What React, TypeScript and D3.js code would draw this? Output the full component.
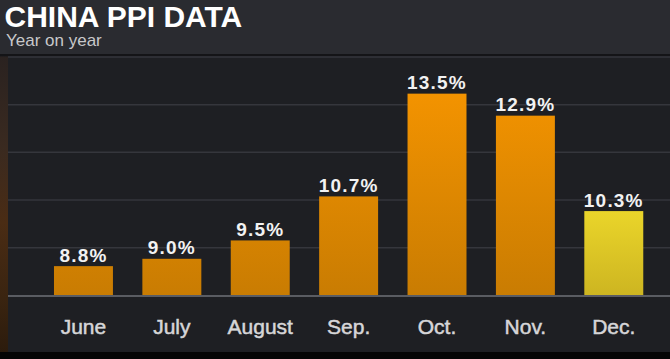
import React from "react";
import * as d3 from "d3";

const months = ["June", "July", "August", "Sep.", "Oct.", "Nov.", "Dec."];
const values = [8.8, 9.0, 9.5, 10.7, 13.5, 12.9, 10.3];
const valueLabels = ["8.8%", "9.0%", "9.5%", "10.7%", "13.5%", "12.9%", "10.3%"];
const highlight = [false, false, false, false, false, false, true];
const gridValues = [9.3, 10.6, 11.9, 13.2, 14.5];
const title = "CHINA PPI DATA";
const subtitle = "Year on year";

const W = 670;
const H = 359;

export default function App() {
  const x = d3
    .scaleBand<string>()
    .domain(months)
    .range([39.25, 658])
    .paddingInner(0.333)
    .paddingOuter(0.1667);
  const y = d3.scaleLinear().domain([8, 14]).range([295.5, 75.3]);

  return (
    <svg
      width={W}
      height={H}
      style={{ position: "absolute", left: 0, top: 0, display: "block" }}
    >
      <defs>
        <linearGradient id="og" gradientUnits="userSpaceOnUse" x1="0" y1={y(13.5)} x2="0" y2={y(8)}>
          <stop offset="0" stopColor="#f39300" />
          <stop offset="1" stopColor="#c97c02" />
        </linearGradient>
        <linearGradient id="yg" gradientUnits="userSpaceOnUse" x1="0" y1={y(10.3)} x2="0" y2={y(8)}>
          <stop offset="0" stopColor="#ead52a" />
          <stop offset="1" stopColor="#cdb521" />
        </linearGradient>
        <linearGradient id="lg" x1="0" y1="0" x2="0" y2="1">
          <stop offset="0" stopColor="#2a2220" />
          <stop offset="0.3" stopColor="#3a2a20" />
          <stop offset="0.55" stopColor="#4a2c14" />
          <stop offset="0.8" stopColor="#3a2410" />
          <stop offset="1" stopColor="#2a1a0c" />
        </linearGradient>
      </defs>
      <rect x={0} y={0} width={W} height={H} fill="#1e1f23" />
      <rect x={0} y={0} width={W} height={54} fill="#2a2b30" />
      <rect x={0} y={54} width={W} height={2.5} fill="#141417" />
      <rect x={0} y={56.5} width={8} height={H - 56.5} fill="url(#lg)" />

      {gridValues.map((g, i) => (
        <line
          key={i}
          x1={8}
          x2={W}
          y1={y(g)}
          y2={y(g)}
          stroke="#35363c"
          strokeWidth={1.5}
        />
      ))}

      {months.map((m, i) => (
        <rect
          key={m}
          x={x(m)}
          y={y(values[i])}
          width={x.bandwidth()}
          height={y(8) - y(values[i])}
          fill={highlight[i] ? "url(#yg)" : "url(#og)"}
        />
      ))}

      <line x1={8} x2={W} y1={y(8) + 0.5} y2={y(8) + 0.5} stroke="#5a5c62" strokeWidth={2} />

      {months.map((m, i) => (
        <text
          key={"v" + m}
          x={(x(m) as number) + x.bandwidth() / 2}
          y={y(values[i]) - 4.5}
          textAnchor="middle"
          fill="#f2f2f2"
          fontFamily="'Liberation Sans', Arial, sans-serif"
          fontWeight="bold"
          fontSize={19}
          letterSpacing={1.2}
        >
          {valueLabels[i]}
        </text>
      ))}

      {months.map((m) => (
        <text
          key={"m" + m}
          x={(x(m) as number) + x.bandwidth() / 2}
          y={333.5}
          textAnchor="middle"
          fill="#d6d6d8"
          stroke="#d6d6d8"
          strokeWidth={0.5}
          fontFamily="'Liberation Sans', Arial, sans-serif"
          fontSize={21}
        >
          {m}
        </text>
      ))}

      <text
        x={4.5}
        y={26.7}
        fill="#ffffff"
        fontFamily="'Liberation Sans', Arial, sans-serif"
        fontWeight="bold"
        fontSize={30}
      >
        {title}
      </text>
      <text
        x={6}
        y={46}
        fill="#c8c8ca"
        fontFamily="'Liberation Sans', Arial, sans-serif"
        fontSize={17}
      >
        {subtitle}
      </text>

      <rect x={0} y={352} width={W} height={H - 352} fill="#050505" />
    </svg>
  );
}
